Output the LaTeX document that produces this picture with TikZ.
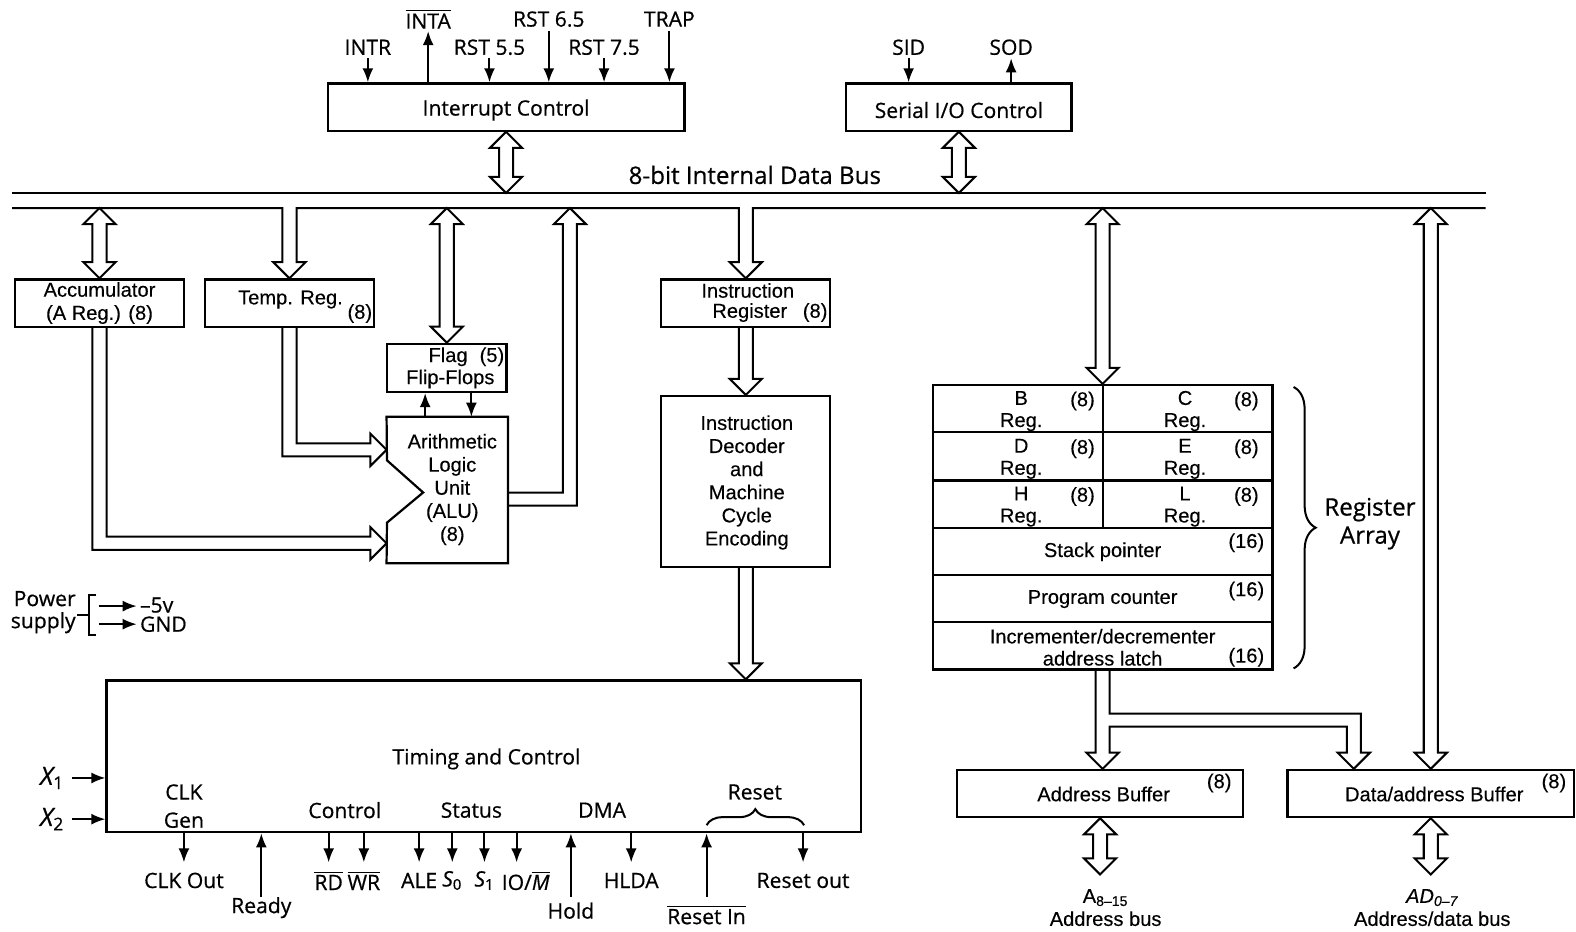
\documentclass[tikz,border=0pt]{standalone}
\usepackage{fontspec}
\setmainfont{Liberation Sans}[FakeBold=0.25]
\newfontfamily\hum{Open Sans}[FakeBold=0.6]
\usetikzlibrary{arrows.meta,calc,fit,decorations.pathreplacing}
\newcommand\ovl[1]{$\overline{\mbox{#1}}$}
\newcommand\hdbl[2]{\draw[hol] let \p1=(#1), \p2=(#2) in
 (\x1,\y1) -- (\x1+8pt,\y1-8pt) -- (\x1+3.5pt,\y1-8pt) -- (\x1+3.5pt,\y2+8pt) -- (\x1+8pt,\y2+8pt) -- (\x1,\y2) -- (\x1-8pt,\y2+8pt) -- (\x1-3.5pt,\y2+8pt) -- (\x1-3.5pt,\y1-8pt) -- (\x1-8pt,\y1-8pt) -- cycle;}
\newcommand\hsgl[2]{\draw[hol] let \p1=(#1), \p2=(#2) in
 (\x1-3.5pt,\y1) -- (\x1-3.5pt,\y2+8pt) -- (\x1-8pt,\y2+8pt) -- (\x1,\y2) -- (\x1+8pt,\y2+8pt) -- (\x1+3.5pt,\y2+8pt) -- (\x1+3.5pt,\y1);}
\begin{document}
\begin{tikzpicture}[x=0.5pt,y=-0.5pt,
 bx/.style={draw, line width=1.1pt, inner sep=0pt},
 hol/.style={line width=1pt, line join=miter},
 sig/.style={line width=1pt, -{Latex[length=7pt,width=5.5pt]}},
 ar/.style={font=\fontsize{10}{11.5}\selectfont, align=center, inner sep=0pt},
 hl/.style={font=\hum\fontsize{10.5}{12.5}\selectfont, align=center, inner sep=1.5pt},
 hbig/.style={font=\hum\fontsize{12}{14}\selectfont, align=center, inner sep=1pt},
 brc/.style={decorate, line width=1pt},
]
\useasboundingbox (0,0) rectangle (1568,927);

% ---------- reference levels
\coordinate (topS) at (0,58);
\coordinate (topL) at (0,31);
\coordinate (botS) at (0,858);
\coordinate (botL) at (0,892);

% ---------- internal data bus
\coordinate (busTL) at (12,192);
\coordinate (busTR) at (1478,192);
\coordinate (busBL) at (12,207);
\coordinate (busBR) at (1478,207);
\draw[hol] (busTL) -- (busTR);
\node[hbig] (buslbl) at (751,174) {8-bit Internal Data Bus};

% ---------- interrupt control
\node[bx, fit={(326,83)(681,130)}] (ic) {};
\node[hl] (ict) at ([yshift=-1.5pt]ic.center) {Interrupt Control};
\node[hl] (lintr) at (366,47) {INTR};
\node[hl] (linta) at (426,19) {\ovl{INTA}};
\node[hl] (lr55) at (487,47) {RST 5.5};
\node[hl] (lr65) at (546,19) {RST 6.5};
\node[hl] (lr75) at (601,47) {RST 7.5};
\node[hl] (ltrap) at (666,19) {TRAP};
\draw[sig] (lintr |- topS) -- (lintr |- ic.north);
\draw[sig] (linta |- ic.north) -- (linta |- topL);
\draw[sig] (lr55 |- topS) -- (lr55 |- ic.north);
\draw[sig] (lr65 |- topL) -- (lr65 |- ic.north);
\draw[sig] (lr75 |- topS) -- (lr75 |- ic.north);
\draw[sig] (ltrap |- topL) -- (ltrap |- ic.north);

% ---------- serial I/O
\node[bx, fit={(842,83)(1066,130)}] (sio) {};
\node[hl] (siot) at ([yshift=-1.5pt]sio.center) {Serial I/O Control};
\node[hl] (lsid) at (904,47) {SID};
\node[hl] (lsod) at (1006,47) {SOD};
\draw[sig] (lsid |- topS) -- (lsid |- sio.north);
\draw[sig] (lsod |- sio.north) -- (lsod |- topS);

\hdbl{ic.south}{ic.south |- busTL}
\hdbl{sio.south}{sio.south |- busTL}

% ---------- accumulator, temp, flags, ALU
\node[bx, fit={(15,278)(183,325)}] (acc) {};
\node[ar] (acct) at (acc.center) {Accumulator\\(A Reg.) (8)};
\node[bx, fit={(204,278)(372,325)}] (temp) {};
\node[ar] (tempt) at (289,298) {Temp. Reg.};
\node[ar] (temp8) at (358,312) {(8)};
\node[bx, fit={(385,342)(504,390)}] (flag) {};
\node[ar] (flagt1) at (464,355) {Flag\hspace{0.6em}(5)};
\node[ar] (flagt2) at (448,377) {Flip-Flops};
\node[inner sep=0pt, fit={(385,415)(505,560)}] (alu) {};
\draw[line width=1.1pt] (alu.north west) -- (alu.north east) -- (alu.south east) -- (alu.south west) -- (385,520) -- (421,490) -- (385,458) -- cycle;
\node[ar] (alut) at (450,487) {Arithmetic\\Logic\\Unit\\(ALU)\\(8)};
\coordinate (fu) at ([xshift=-11pt]alu.north);
\coordinate (fd) at ([xshift=12pt]alu.north);
\draw[sig] (fu) -- (fu |- flag.south);
\draw[sig] (fd |- flag.south) -- (fd);

\coordinate (aluA) at ([yshift=20pt]alu.west);
\coordinate (aluB) at ([yshift=-26.5pt]alu.west);
\coordinate (aluC) at ([yshift=-4.5pt]alu.east);
\coordinate (aluU) at (567,207);

% ---------- instruction register and decoder
\node[bx, fit={(658,278)(826,325)}] (ir) {};
\node[ar] (irt1) at (744,289) {Instruction};
\node[ar] (irt2) at (746,311) {Register};
\node[ar] (ir8) at (811,311) {(8)};
\node[bx, fit={(658,394)(826,564)}] (dec) {};
\node[ar] (dect) at (743,480) {Instruction\\Decoder\\and\\Machine\\Cycle\\Encoding};

% ---------- timing and control
\node[bx, fit={(106,677)(857,828)}] (tc) {};
\node[hl] (tct) at (484,755) {Timing and Control};
\node[hl, font=\hum\fontsize{10.5}{14}\selectfont] (clkgen) at (183,802) {CLK\\Gen};
\node[hl] (lctl) at (343,806) {Control};
\node[hl] (lsta) at (469,806) {Status};
\node[hl] (ldma) at (599,806) {DMA};
\node[hl] (lrst) at (751,788) {Reset};
\draw[brc, decoration={brace, amplitude=8pt}] (703,821) -- (800,821);

\node[hl, font=\hum\itshape\fontsize{12.5}{13}\selectfont] (lx1) at (52,774) {X\textsubscript{\upshape 1}};
\node[hl, font=\hum\itshape\fontsize{12.5}{13}\selectfont] (lx2) at (52,815) {X\textsubscript{\upshape 2}};
\coordinate (xs) at (72,0);
\draw[sig] (xs |- lx1) -- (tc.west |- lx1);
\draw[sig] (xs |- lx2) -- (tc.west |- lx2);

\node[hl] (lclk) at (183,876) {CLK Out};
\node[hl] (lrdy) at (260,903) {Ready};
\node[hl] (lrd) at (327,876) {\ovl{RD}};
\node[hl] (lwr) at (362,876) {\ovl{WR}};
\node[hl] (lale) at (417,876) {ALE};
\node[hl] (ls0) at (450,876) {\itshape S\textsubscript{\upshape 0}};
\node[hl] (ls1) at (482,876) {\itshape S\textsubscript{\upshape 1}};
\node[hl] (lio) at (523,876) {IO/\ovl{\itshape M}};
\node[hl] (lhold) at (568,906) {Hold};
\node[hl] (lhlda) at (628,876) {HLDA};
\node[hl] (lrin) at (703,910) {\ovl{Reset In}};
\node[hl] (lrout) at (799,876) {Reset out};
\coordinate (ioA) at ([xshift=-4.5pt]lio.north);
\draw[sig] (lclk |- tc.south) -- (lclk |- botS);
\draw[sig] (lrdy |- botL) -- (lrdy |- tc.south);
\draw[sig] (lrd |- tc.south) -- (lrd |- botS);
\draw[sig] (lwr |- tc.south) -- (lwr |- botS);
\draw[sig] (lale |- tc.south) -- (lale |- botS);
\draw[sig] (ls0 |- tc.south) -- (ls0 |- botS);
\draw[sig] (ls1 |- tc.south) -- (ls1 |- botS);
\draw[sig] (ioA |- tc.south) -- (ioA |- botS);
\draw[sig] (lhold |- botL) -- (lhold |- tc.south);
\draw[sig] (lhlda |- tc.south) -- (lhlda |- botS);
\draw[sig] (lrin |- botL) -- (lrin |- tc.south);
\draw[sig] (lrout |- tc.south) -- (lrout |- botS);

% ---------- power supply
\node[hl, align=right, font=\hum\fontsize{10.5}{11}\selectfont] (pwr) at (43,609) {Power\\supply};
\draw[line width=1pt] (96,592) -- (89,592) -- (89,632) -- (96,632);
\draw[line width=1pt] (77,612) -- (89,612);
\node[hl, anchor=west] (m5v) at (136,602) {–5v};
\node[hl, anchor=west] (gnd) at (136,621) {GND};
\coordinate (pa) at (98,603);
\coordinate (pb) at (98,621);
\draw[sig] (pa) -- (pa -| m5v.west);
\draw[sig] (pb) -- (gnd.west);

% ---------- register array
\node[bx, fit={(928,383)(1266,666)}] (ra) {};
\foreach \yy in {430,478,525,572,619} \draw[line width=1.1pt] (928,\yy) -- (1266,\yy);
\draw[line width=1.1pt] (1097,383) -- (1097,525);
\foreach \la/\lb/\t in {B/C/383, D/E/430.5, H/L/478}{
 \node[ar] (r\la) at (1016,\t+13) {\la};
 \node[ar] (r\la-g) at (1016,\t+37) {Reg.};
 \node[ar] (r\la-s) at (1077,\t+16) {(8)};
 \node[ar] (r\lb) at (1179,\t+13) {\lb};
 \node[ar] (r\lb-g) at (1179,\t+37) {Reg.};
 \node[ar] (r\lb-s) at (1240,\t+16) {(8)};
}
\node[ar] (spt) at (1097,549) {Stack pointer};
\node[ar] (sps) at (1240,540) {(16)};
\node[ar] (pct) at (1097,596) {Program counter};
\node[ar] (pcs) at (1240,588) {(16)};
\node[ar] (inct1) at (1097,633) {Incrementer/decrementer};
\node[ar] (inct2) at (1097,655) {address latch};
\node[ar] (incs) at (1240,654) {(16)};
\draw[brc, decoration={brace, amplitude=11pt}] (1287,385) -- (1287,665);
\node[hbig] (rat) at (1363,521) {Register\\Array};

% ---------- buffers
\node[bx, fit={(952,766)(1237,813)}] (abuf) {};
\node[ar] (abuft) at (1098,790) {Address Buffer};
\node[ar] (abufs) at (1213,779) {(8)};
\node[bx, fit={(1281,766)(1566,813)}] (dbuf) {};
\node[ar] (dbuft) at (1427,790) {Data/address Buffer};
\node[ar] (dbufs) at (1546,779) {(8)};
\coordinate (abusE) at (1097,870);
\coordinate (dbusE) at (1422,870);
\node[ar] (abusl1) at (1100,893) {A\textsubscript{8–15}};
\node[ar] (abusl2) at (1100,914) {Address bus};
\node[ar] (dbusl1) at (1425,893) {\itshape AD\textsubscript{0–7}};
\node[ar] (dbusl2) at (1425,914) {Address/data bus};

% ---------- hollow bus arrows
\hdbl{acc.north |- busBL}{acc.north}
\hdbl{flag.north |- busBL}{flag.north}
\hdbl{ra.north |- busBL}{ra.north}
\hdbl{dbuf.north |- busBL}{dbuf.north}
\hdbl{abuf.south}{abuf.south |- abusE}
\hdbl{dbuf.south}{dbuf.south |- dbusE}
\hsgl{ir.south}{ir.south |- dec.north}
\hsgl{dec.south}{dec.south |- tc.north}

% bus lower line with branches to Temp. Reg. and Instruction Register
\draw[hol] let \p1=(temp.north), \p2=(ir.north), \p3=(busBL), \p4=(busBR) in
 (\p3) -- (\x1-3.5pt,\y3) -- (\x1-3.5pt,\y1+8pt) -- (\x1-8pt,\y1+8pt) -- (\p1) -- (\x1+8pt,\y1+8pt) -- (\x1+3.5pt,\y1+8pt) -- (\x1+3.5pt,\y3)
 -- (\x2-3.5pt,\y3) -- (\x2-3.5pt,\y2+8pt) -- (\x2-8pt,\y2+8pt) -- (\p2) -- (\x2+8pt,\y2+8pt) -- (\x2+3.5pt,\y2+8pt) -- (\x2+3.5pt,\y3) -- (\p4);

% Temp. Reg. -> ALU
\draw[hol] let \p1=(temp.south), \p2=(aluA) in
 (\x1-3.5pt,\y1) -- (\x1-3.5pt,\y2-3.25pt) -- (\x2-8pt,\y2-3.25pt) -- (\x2-8pt,\y2-8pt) -- (\p2) -- (\x2-8pt,\y2+8pt) -- (\x2-8pt,\y2+3.25pt) -- (\x1+3.5pt,\y2+3.25pt) -- (\x1+3.5pt,\y1);
% Accumulator -> ALU
\draw[hol] let \p1=(acc.south), \p2=(aluB) in
 (\x1-3.5pt,\y1) -- (\x1-3.5pt,\y2-3.25pt) -- (\x2-8pt,\y2-3.25pt) -- (\x2-8pt,\y2-8pt) -- (\p2) -- (\x2-8pt,\y2+8pt) -- (\x2-8pt,\y2+3.25pt) -- (\x1+3.5pt,\y2+3.25pt) -- (\x1+3.5pt,\y1);
% ALU -> bus
\draw[hol] let \p1=(aluC), \p2=(aluU) in
 (\x1,\y1+3.25pt) -- (\x2-3.5pt,\y1+3.25pt) -- (\x2-3.5pt,\y2-8pt) -- (\x2-8pt,\y2-8pt) -- (\p2) -- (\x2+8pt,\y2-8pt) -- (\x2+3.5pt,\y2-8pt) -- (\x2+3.5pt,\y1-3.25pt) -- (\x1,\y1-3.25pt);

% register array -> address buffer and data/address buffer
\coordinate (split) at (1097,716.5);
\coordinate (dtip) at ([xshift=33.5pt]dbuf.north west);
\draw[hol] let \p1=(ra.south), \p2=(ra.south |- abuf.north), \p3=(dtip), \p4=(split) in
 (\x1-3.5pt,\y1) -- (\x1-3.5pt,\y2+8pt) -- (\x1-8pt,\y2+8pt) -- (\x1,\y2) -- (\x1+8pt,\y2+8pt) -- (\x1+3.5pt,\y2+8pt) -- (\x1+3.5pt,\y4-3.25pt)
 -- (\x3-3.5pt,\y4-3.25pt) -- (\x3-3.5pt,\y3+8pt) -- (\x3-8pt,\y3+8pt) -- (\p3) -- (\x3+8pt,\y3+8pt) -- (\x3+3.5pt,\y3+8pt) -- (\x3+3.5pt,\y4+3.25pt)
 -- (\x1+3.5pt,\y4+3.25pt) -- (\x1+3.5pt,\y1);
\end{tikzpicture}
\end{document}
